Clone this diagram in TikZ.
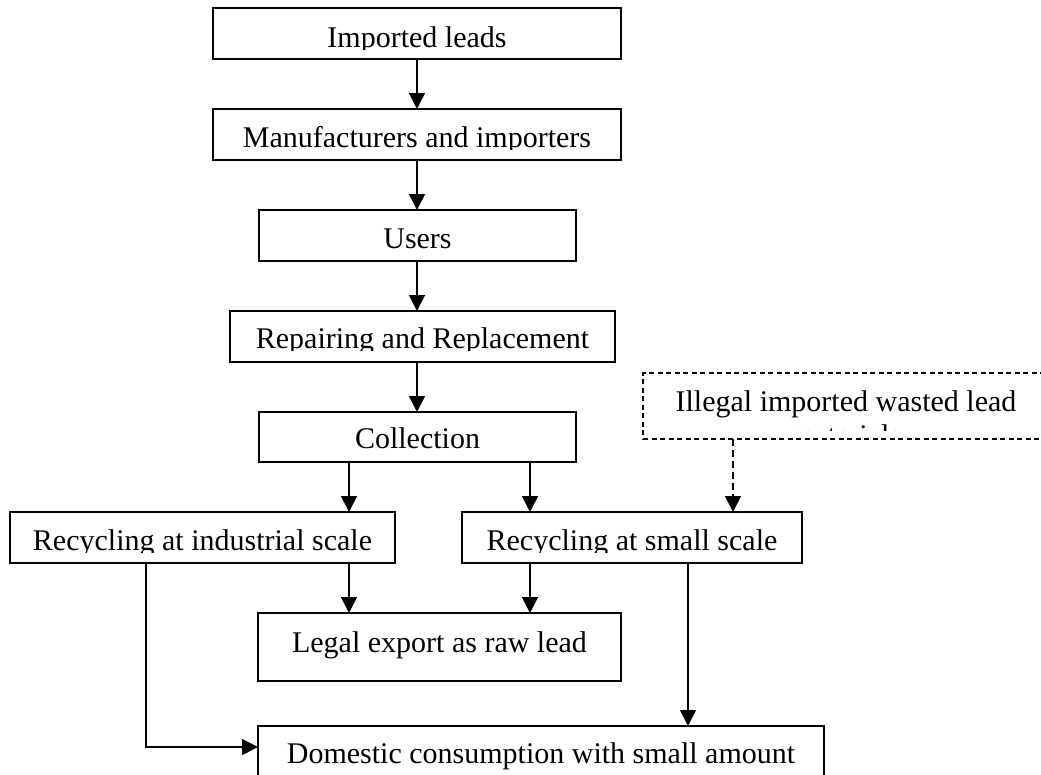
\documentclass[tikz,border=0pt]{standalone}
\usepackage{fontspec}
\setmainfont{Liberation Serif}
\usetikzlibrary{arrows.meta}
\begin{document}
\begin{tikzpicture}[x=1pt,y=-1pt,
  box/.style={draw, line width=1.5pt, inner sep=0pt, outer sep=0pt},
  dbox/.style={box, dash pattern=on 5pt off 3.5pt},
  txt/.style={font=\fontsize{30}{34}\selectfont, inner sep=0pt, anchor=base},
  arr/.style={line width=1.6pt, -{Triangle[width=16pt,length=16pt]}},
  darr/.style={arr, dash pattern=on 7pt off 4pt}]
\clip (0,0) rectangle (1041,774);
% boxes
\node[box, minimum width=408pt, minimum height=51pt] (imp) at (417,33.5) {};
\node[box, minimum width=408pt, minimum height=51pt] (man) at (417,134.5) {};
\node[box, minimum width=317pt, minimum height=51pt] (usr) at (417.5,235.5) {};
\node[box, minimum width=385pt, minimum height=51pt] (rep) at (422.5,336.5) {};
\node[box, minimum width=317pt, minimum height=50pt] (col) at (417.5,437) {};
\node[dbox, minimum width=406pt, minimum height=66pt] (ill) at (846,406) {};
\node[box, minimum width=385pt, minimum height=51pt] (ind) at (202.5,537.5) {};
\node[box, minimum width=340pt, minimum height=51pt] (sml) at (632,537.5) {};
\node[box, minimum width=363pt, minimum height=68pt] (leg) at (439.5,647) {};
\node[box, minimum width=566pt, minimum height=80pt] (dom) at (541,766) {};
% texts (clipped like the original text boxes)
\begin{scope}\clip (213,8) rectangle (621,49.5);
  \node[txt] (timp) at (417,47) {Imported leads};\end{scope}
\begin{scope}\clip (213,109) rectangle (621,149.5);
  \node[txt] (tman) at (417,147) {Manufacturers and importers};\end{scope}
\begin{scope}\clip (259,210) rectangle (576,250.5);
  \node[txt] (tusr) at (417.5,248) {Users};\end{scope}
\begin{scope}\clip (230,311) rectangle (615,350.5);
  \node[txt] (trep) at (422.5,348) {Repairing and Replacement};\end{scope}
\begin{scope}\clip (259,412) rectangle (576,450.5);
  \node[txt] (tcol) at (417.5,448) {Collection};\end{scope}
\begin{scope}\clip (643,373) rectangle (1049,430);
  \node[txt] (till) at (846,411) {Illegal imported wasted lead};
  \node[txt] (tmat) at (846,445) {materials};\end{scope}
\begin{scope}\clip (10,512) rectangle (395,552.5);
  \node[txt] (tind) at (202.5,550) {Recycling at industrial scale};\end{scope}
\begin{scope}\clip (462,512) rectangle (802,552.5);
  \node[txt] (tsml) at (632,550) {Recycling at small scale};\end{scope}
\node[txt] (tleg) at (439.5,652) {Legal export as raw lead};
\node[txt] (tdom) at (541,763) {Domestic consumption with small amount};
% helper coordinates
\coordinate (c1) at (349,0);
\coordinate (c2) at (530,0);
\coordinate (c3) at (733,0);
\coordinate (c4) at (146,747);
\coordinate (c5) at (688,0);
% connectors
\draw[arr] (imp.south) -- (man.north);
\draw[arr] (man.south) -- (man.south |- usr.north);
\draw[arr] (man.south |- usr.south) -- (man.south |- rep.north);
\draw[arr] (man.south |- rep.south) -- (man.south |- col.north);
\draw[arr] (c1 |- col.south) -- (c1 |- ind.north);
\draw[arr] (c2 |- col.south) -- (c2 |- sml.north);
\draw[darr] (c3 |- ill.south) -- (c3 |- sml.north);
\draw[arr] (c1 |- ind.south) -- (c1 |- leg.north);
\draw[arr] (c2 |- sml.south) -- (c2 |- leg.north);
\draw[arr] (c4 |- ind.south) -- (c4) -- (c4 -| dom.west);
\draw[arr] (c5 |- sml.south) -- (c5 |- dom.north);
\end{tikzpicture}
\end{document}
